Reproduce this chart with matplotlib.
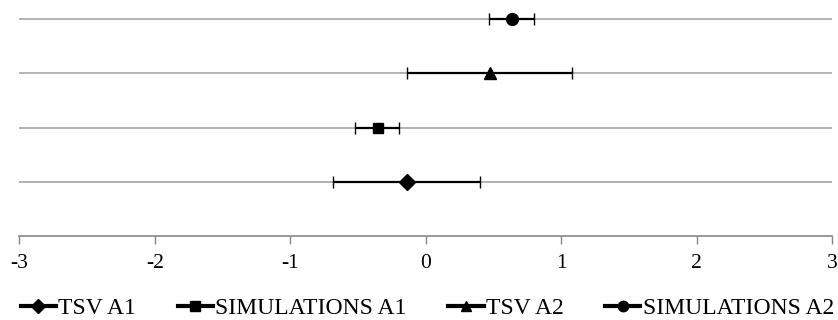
import matplotlib.pyplot as plt
import numpy as np

plt.rcParams['font.family'] = ['Liberation Serif', 'DejaVu Serif']

# series data (mean, lower, upper)
labels = ["TSV A1", "SIMULATIONS A1", "TSV A2", "SIMULATIONS A2"]
means = [-0.14, -0.355, 0.477, 0.64]
lows = [-0.687, -0.525, -0.137, 0.465]
highs = [0.398, -0.196, 1.083, 0.80]
rows = [1, 2, 3, 4]
markers = ["D", "s", "^", "o"]
xticks = [-3, -2, -1, 0, 1, 2, 3]

fig = plt.figure(figsize=(8.38, 3.2), dpi=100)
ax = fig.add_axes([0.023, 0.262, 0.97, 0.738])

# horizontal gridlines
for r in rows:
    ax.axhline(r, color="#a6a6a6", lw=1.2, zorder=1)

sizes = [8, 7.5, 8.5, 8.5]
for i in range(len(labels)):
    err = [[means[i] - lows[i]], [highs[i] - means[i]]]
    ax.errorbar([means[i]], [rows[i]], xerr=err, fmt=markers[i], color="black",
                ms=sizes[i], ecolor="black", elinewidth=1.6, capsize=4,
                capthick=1, zorder=3, label=labels[i])

ax.set_xlim(-3, 3)
ax.set_ylim(0, 4.35)
ax.set_xticks(xticks)
ax.set_xticklabels([str(t) for t in xticks], fontsize=15.5)
ax.set_yticks([])
for s in ["top", "left", "right"]:
    ax.spines[s].set_visible(False)
ax.spines["bottom"].set_color("#868686")
ax.spines["bottom"].set_linewidth(1.2)
ax.tick_params(axis="x", length=6, color="#868686", width=1, pad=7)

# legend built from line+marker handles
handles = [plt.Line2D([0], [0], color="black", lw=3, marker=m, ms=7.5) for m in markers]
fig.legend(handles, labels, loc="center", bbox_to_anchor=(0.51, 0.036), ncol=4,
           frameon=False, fontsize=17, handlelength=1.5, handletextpad=0.1,
           columnspacing=1.75, borderpad=0.3)

fig.savefig("out.png", dpi=100)
